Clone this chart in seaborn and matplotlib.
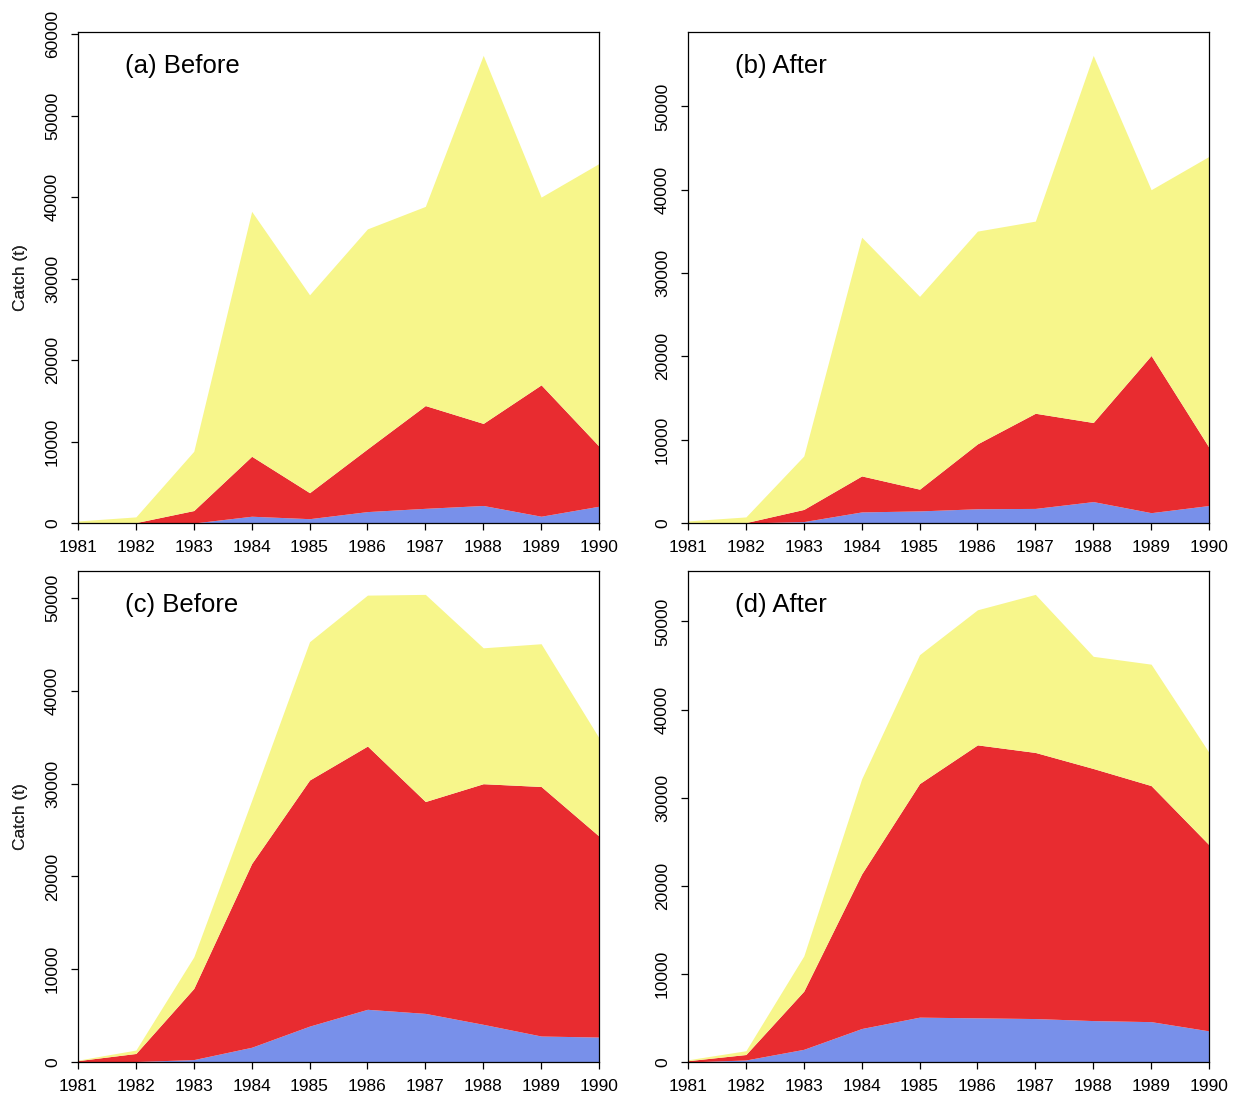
import numpy as np
import pandas as pd
import matplotlib
matplotlib.use("Agg")
import matplotlib.pyplot as plt
import seaborn as sns

# Years on the x axis
years = [1981, 1982, 1983, 1984, 1985, 1986, 1987, 1988, 1989, 1990]

# Catch (t) per layer, bottom (blue) / middle (red) / top (yellow)
blue_a = [0, 0, 0, 830, 530, 1400, 1800, 2150, 830, 2060]
red_a = [0, 50, 1530, 7360, 3190, 7700, 12610, 10070, 16120, 7360]
yellow_a = [250, 700, 7270, 30050, 24280, 26990, 24440, 45160, 23040, 34690]

blue_b = [0, 0, 170, 1330, 1450, 1710, 1750, 2570, 1240, 2100]
red_b = [0, 50, 1460, 4320, 2610, 7790, 11420, 9490, 18860, 6970]
yellow_b = [250, 680, 6410, 28650, 23140, 25530, 23060, 44060, 19900, 34930]

blue_c = [0, 50, 260, 1590, 3870, 5680, 5240, 4060, 2800, 2690]
red_c = [150, 870, 7670, 19810, 26530, 28380, 22840, 25940, 26900, 21660]
yellow_c = [50, 370, 3400, 6800, 14910, 16270, 22330, 14650, 15390, 10590]

blue_d = [0, 230, 1440, 3800, 5090, 5010, 4930, 4700, 4580, 3530]
red_d = [150, 620, 6600, 17550, 26510, 30980, 30200, 28610, 26790, 21120]
yellow_d = [100, 430, 3990, 10790, 14630, 15330, 17940, 12730, 13780, 10480]

panel_titles = ["(a) Before", "(b) After", "(c) Before", "(d) After"]
layer_names = ["upper", "middle", "lower"]
layer_colors = ["#F7F68B", "#E82C30", "#7890EA"]
y_label = "Catch (t)"

panels = [
    (blue_a, red_a, yellow_a),
    (blue_b, red_b, yellow_b),
    (blue_c, red_c, yellow_c),
    (blue_d, red_d, yellow_d),
]

sns.set_theme(style="white")
plt.rcParams["font.family"] = ["Liberation Sans", "DejaVu Sans"]

W, H = 1239, 1098
fig = plt.figure(figsize=(W / 100, H / 100), dpi=100)

# axes boxes in pixels: left, top, right, bottom
boxes = [
    (78, 32, 599, 523),
    (688, 32, 1209, 523),
    (78, 571, 599, 1062),
    (688, 571, 1209, 1062),
]

for (blue, red, yellow), title, (l, t, r, b) in zip(panels, panel_titles, boxes):
    ax = fig.add_axes([l / W, (H - b) / H, (r - l) / W, (b - t) / H])
    df = pd.DataFrame({
        "year": years * 3,
        "catch": list(yellow) + list(red) + list(blue),
        "layer": ["upper"] * len(years) + ["middle"] * len(years) + ["lower"] * len(years),
    })
    sns.histplot(
        data=df, x="year", weights="catch", hue="layer",
        hue_order=layer_names, palette=layer_colors,
        multiple="stack", element="poly", discrete=True,
        alpha=1, linewidth=0, legend=False, ax=ax,
    )
    total = np.array(blue) + np.array(red) + np.array(yellow)
    ymax = total.max() * 1.05
    ax.set_xlim(years[0], years[-1])
    ax.set_ylim(0, ymax)
    ax.set_xticks(years)
    ax.set_xticklabels([str(y) for y in years])
    yt = np.arange(0, ymax + 1, 10000)
    ax.set_yticks(yt)
    ax.set_yticklabels([str(int(v)) for v in yt])
    ax.tick_params(axis="both", which="both", direction="out", length=5,
                   width=0.9, colors="black", labelsize=12.5, bottom=True, left=True)
    ax.tick_params(axis="x", pad=7.5)
    ax.tick_params(axis="y", pad=8)
    for lab in ax.get_yticklabels():
        lab.set_rotation(90)
        lab.set_va("center")
    for sp in ax.spines.values():
        sp.set_visible(True)
        sp.set_color("black")
        sp.set_linewidth(0.9)
    ax.set_xlabel("")
    ax.set_ylabel(y_label, fontsize=12.5, va="center")
    ax.yaxis.set_label_coords(-(l - 20) / (r - l), 0.5)
    ax.text(0.09, 0.931, title, transform=ax.transAxes, fontsize=18.5,
            ha="left", va="center", color="black")

fig.savefig("out.png", dpi=100)
